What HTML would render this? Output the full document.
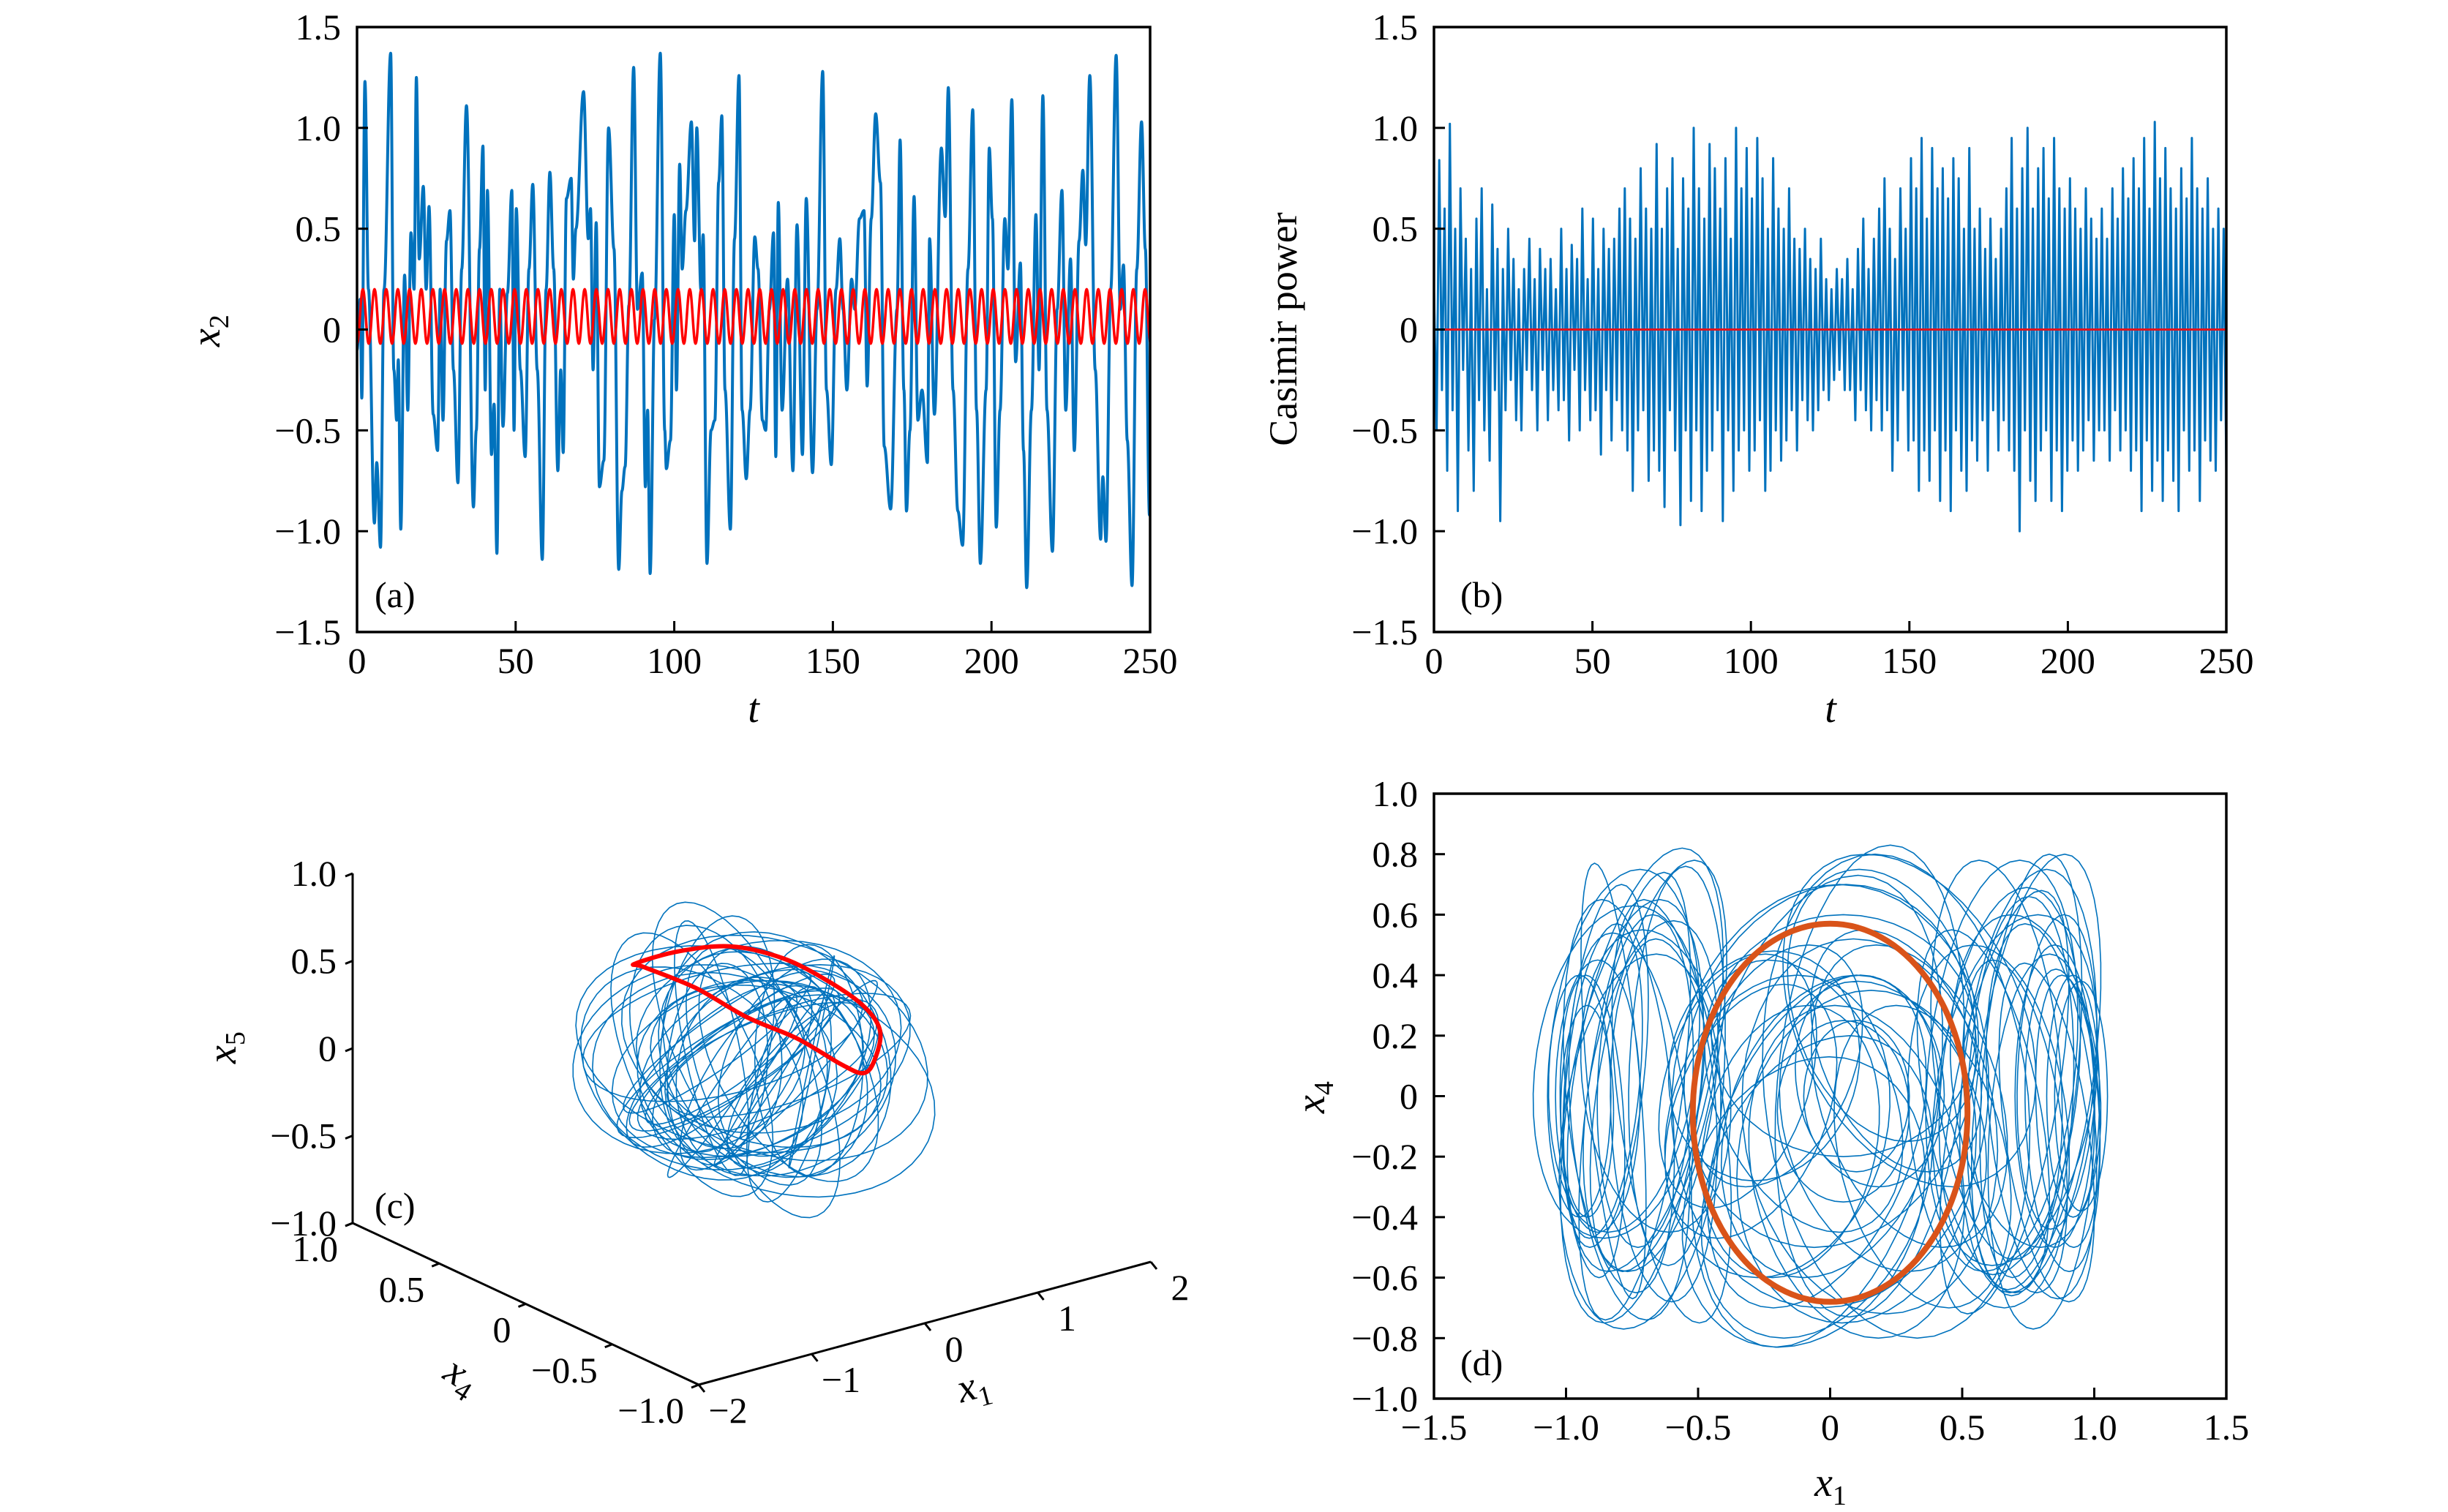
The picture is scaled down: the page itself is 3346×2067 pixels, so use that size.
<!DOCTYPE html>
<html><head><meta charset="utf-8"><style>
html,body{margin:0;padding:0;background:#fff}
svg{display:block}
text{font-family:"Liberation Serif","DejaVu Serif",serif;fill:#000}
.tk{font-size:50px}
.it{font-style:italic;font-size:56px}
</style></head><body>
<svg id="fig" width="3346" height="2067" viewBox="0 0 3346 2067" xmlns="http://www.w3.org/2000/svg">
<rect width="3346" height="2067" fill="#fff"/>
<g id="pa"></g>
<g id="pb"></g>
<g id="pc"></g>
<g id="pd"></g>
</svg>
<script>
// ---------- Panel (a) data: local extrema of x2(t) ----------
const aTimes=[0,1,1.5,2.5,3.6,5.5,6.2,7.4,8.5,10.6,11.6,12.5,13,13.8,15,16,17,18,18.7,19.6,20.9,21.8,22.7,24,25.4,26.2,27.1,28.2,29.3,30.4,31.8,33,34.5,36.7,37.6,38.6,39.7,40.4,41.1,42.4,43.2,44.1,45,46,47.4,48.8,49.5,50.2,51.5,53,54.2,55.4,56.8,58.4,59.6,60.8,62,63.3,64.2,65,66,67.5,68.2,69,71.4,72.9,73.6,74.4,75.4,76.4,77.8,79.3,81,82.5,83.5,84.5,85.7,87.2,88.4,89.9,90.9,91.6,92.4,93.8,95.6,97,97.5,98.8,100,100.7,101.7,102.5,103.7,105.4,106.4,107.1,108.4,109.1,110.3,111.6,112.8,114,115,116,117.7,119,120.4,121.4,122.7,123.9,125.4,126.4,127.8,128.8,130,131.3,132,132.8,134,135.7,137.4,138.7,140.4,141.6,143.6,145,146.8,148,149.5,151,152.2,153.2,154.4,155.9,156.9,158.4,159.8,160.8,162.1,163.5,165,166.2,168.2,170.2,171.2,172.4,173.2,174.3,175.6,176.8,178.1,179.8,180.5,182,184.2,185.4,186.4,187.9,189.4,190.9,192.6,194.1,195.3,196.5,198.3,199.3,200.3,201.5,202.7,204.2,205.2,206.4,207.6,209.1,210.1,211.1,212.6,214,215,216.2,217.5,219.2,220.7,222.2,223.4,224.9,226.1,227.6,228.8,229.7,231,232.7,234.4,235.1,236.1,237.6,239.3,240.6,241.6,242.8,244.3,245.8,247.3,248.5,249.8];
const aValues=[-0.1,0.15,-0.34,1.23,0.2,-0.96,-0.66,-1.08,0.2,1.37,-0.2,-0.45,-0.15,-0.99,0.27,-0.4,0.48,0.2,1.25,0.35,0.71,0.2,0.61,-0.42,-0.6,0.2,-0.45,0.44,0.59,-0.2,-0.76,0.3,1.11,-0.88,-0.5,0.4,0.91,-0.3,0.69,-0.62,-0.37,-1.11,0.2,-0.48,0.18,0.69,-0.5,0.6,-0.2,-0.63,0.3,0.72,-0.2,-1.14,0.2,0.78,0.3,-0.7,-0.2,-0.61,0.65,0.75,0.25,0.5,1.18,0.45,0.6,-0.2,0.53,-0.78,-0.65,1.0,0.4,-1.19,-0.8,-0.68,0.12,1.3,0.1,0.28,-0.78,-0.4,-1.21,0.05,1.37,-0.5,-0.69,-0.55,0.57,-0.3,0.82,0.3,0.59,1.03,0.44,1.0,0.2,0.47,-1.16,-0.5,-0.45,0.73,1.06,-0.3,-0.99,0.45,1.26,-0.4,-0.74,-0.4,0.46,0.3,-0.45,-0.5,0.1,0.48,-0.63,0.63,-0.4,0.25,-0.7,0.52,-0.62,0.65,-0.71,0.1,1.28,-0.3,-0.67,0.2,0.45,0.1,-0.3,0.25,0.1,0.55,0.59,-0.28,0.55,1.07,0.73,-0.58,-0.89,0.1,0.94,-0.3,-0.9,-0.5,0.66,-0.45,-0.3,-0.66,0.45,-0.42,0.9,0.56,1.2,-0.3,-0.9,-1.07,0.3,1.09,-0.4,-1.16,-0.3,0.9,0.55,-0.98,-0.4,0.55,0.3,1.14,-0.16,0.33,-0.6,-1.28,-0.4,0.57,-0.2,1.16,-0.4,-1.1,0.1,0.69,-0.4,0.35,-0.6,0.44,0.79,0.42,1.26,-0.2,-1.04,-0.73,-1.05,0.2,1.36,0.1,0.32,-0.55,-1.27,0.3,1.03,0.4,-0.92];
const aRedHigh=[0.2], aRedLow=[-0.07], aRedPeriod=[3.68];
const aYTicks=[-1.5,-1,-0.5,0,0.5,1,1.5];
const aYLabels=["\u22121.5","\u22121.0","\u22120.5","0","0.5","1.0","1.5"];
const tTicks=[0,50,100,150,200,250];
const tLabels=["0","50","100","150","200","250"];

// ---------- Panel (b) data: Casimir power samples ----------
const bValues=[0.2,-0.5,0.84,-0.3,0.6,-0.7,1.02,-0.4,0.5,-0.9,0.7,-0.2,
0.45,-0.6,0.3,-0.8,0.55,-0.35,0.7,-0.5,0.2,-0.65,0.62,-0.3,
0.4,-0.95,0.3,-0.4,0.5,-0.25,0.35,-0.45,0.2,-0.5,0.3,-0.2,
0.45,-0.3,0.25,-0.5,0.4,-0.2,0.3,-0.45,0.35,-0.3,0.2,-0.4,
0.5,-0.35,0.3,-0.55,0.42,-0.2,0.35,-0.5,0.6,-0.3,0.25,-0.45,
0.55,-0.4,0.3,-0.62,0.5,-0.3,0.4,-0.55,0.45,-0.35,0.6,-0.5,
0.7,-0.6,0.55,-0.8,0.45,-0.5,0.8,-0.4,0.6,-0.75,0.5,-0.6,
0.92,-0.7,0.5,-0.88,0.7,-0.4,0.85,-0.6,0.4,-0.97,0.75,-0.5,
0.6,-0.85,1.0,-0.5,0.7,-0.9,0.55,-0.7,0.92,-0.6,0.8,-0.4,
0.6,-0.95,0.85,-0.5,0.45,-0.8,1.0,-0.6,0.7,-0.5,0.9,-0.7,
0.65,-0.6,0.95,-0.45,0.75,-0.8,0.5,-0.7,0.85,-0.5,0.6,-0.65,
0.5,-0.55,0.7,-0.4,0.45,-0.6,0.4,-0.35,0.5,-0.45,0.35,-0.5,
0.3,-0.4,0.45,-0.3,0.25,-0.35,0.2,-0.25,0.3,-0.2,0.25,-0.3,
0.35,-0.3,0.2,-0.45,0.4,-0.3,0.55,-0.4,0.3,-0.5,0.45,-0.35,
0.6,-0.5,0.75,-0.4,0.5,-0.7,0.35,-0.55,0.7,-0.3,0.5,-0.6,
0.85,-0.55,0.7,-0.8,0.95,-0.6,0.55,-0.75,0.9,-0.5,0.7,-0.85,
0.8,-0.6,0.65,-0.9,0.85,-0.5,0.75,-0.7,0.5,-0.8,0.9,-0.55,
0.5,-0.65,0.6,-0.45,0.4,-0.7,0.55,-0.4,0.35,-0.6,0.5,-0.45,
0.7,-0.6,0.95,-0.7,0.6,-1.0,0.8,-0.5,1.0,-0.75,0.6,-0.85,
0.8,-0.6,0.9,-0.5,0.65,-0.85,0.95,-0.6,0.7,-0.9,0.6,-0.7,
0.75,-0.55,0.6,-0.7,0.5,-0.6,0.7,-0.45,0.55,-0.65,0.45,-0.5,
0.6,-0.5,0.45,-0.65,0.7,-0.4,0.55,-0.6,0.8,-0.5,0.65,-0.7,
0.85,-0.6,0.7,-0.9,0.95,-0.55,0.6,-0.8,1.03,-0.65,0.75,-0.85,
0.9,-0.6,0.7,-0.75,0.6,-0.9,0.8,-0.5,0.65,-0.7,0.95,-0.6,
0.7,-0.85,0.6,-0.55,0.75,-0.65,0.5,-0.7,0.6,-0.45,0.5,-0.7];
const bRedLevel=[0];

// ---------- Panel (c) data: 3D loops (x1,x4,x5) ----------
const cC1=[0.1,-0.2,0.3,0.0,-0.1,0.2,-0.3,0.15,-0.05,0.25,-0.25,0.05,0.1,-0.15,0.2,0.0,-0.2,0.3,-0.1,0.1,0.05,-0.05,0.15,-0.3,0.25,0.0,-0.15,0.2,0.1,-0.1,0.0,0.3,-0.2,0.05,0.15,-0.25,0.1,0.2,-0.05,0.0];
const cC4=[0.0,0.1,-0.1,0.2,-0.2,0.05,0.15,-0.15,0.1,-0.05,0.2,-0.1,0.0,0.1,-0.2,0.15,-0.05,0.05,0.2,-0.15,0.1,-0.1,0.0,0.15,-0.05,0.2,-0.2,0.1,-0.1,0.05,0.0,-0.15,0.1,0.2,-0.1,0.05,0.15,-0.2,0.0,0.1];
const cC5=[0.0,0.1,-0.1,0.05,0.15,-0.05,0.0,0.1,-0.15,0.05,0.0,0.15,-0.1,0.0,0.1,-0.05,0.05,0.0,0.1,-0.1,0.05,0.0,0.15,-0.05,0.0,0.1,0.05,-0.1,0.0,0.1,-0.05,0.05,0.0,0.1,-0.1,0.0,0.05,0.1,-0.05,0.0];
const cR1=[0.82,0.61,0.95,0.68,0.88,0.54,0.75,0.95,0.65,0.85,0.71,0.88,0.58,0.78,0.95,0.68,0.82,0.61,0.88,0.75,0.92,0.54,0.85,0.68,0.78,0.88,0.65,0.82,0.71,0.88,0.95,0.61,0.75,0.85,0.68,0.92,0.58,0.82,0.88,0.75];
const cR4=[0.28,0.35,0.21,0.38,0.25,0.32,0.42,0.18,0.35,0.28,0.21,0.38,0.32,0.25,0.35,0.42,0.21,0.28,0.35,0.25,0.32,0.38,0.21,0.28,0.42,0.25,0.35,0.32,0.21,0.38,0.28,0.35,0.25,0.32,0.42,0.21,0.35,0.28,0.25,0.38];
const cR5=[0.5,0.6,0.45,0.55,0.62,0.42,0.55,0.5,0.6,0.46,0.56,0.52,0.62,0.48,0.44,0.6,0.55,0.64,0.46,0.58,0.5,0.62,0.55,0.5,0.46,0.6,0.56,0.52,0.62,0.48,0.42,0.6,0.55,0.5,0.58,0.46,0.64,0.55,0.52,0.56];
const cPh=[0,1,2,3,4,5,0.5,1.5,2.5,3.5,4.5,5.5,0.2,1.2,2.2,3.2,4.2,5.2,0.7,1.7,2.7,3.7,4.7,5.7,0.4,1.4,2.4,3.4,4.4,5.4,0.9,1.9,2.9,3.9,4.9,5.9,0.1,1.1,2.1,3.1];
const cRedX1=[-1.026,-0.631,-0.178,0.275,0.663,0.987,1.136,1.084,0.987,0.793,0.405,-0.049,-0.502,-0.955];
const cRedX4=[0,0,0,0,0,0,0,0,0,0,0,0,0,0];
const cRedX5=[0.776,0.778,0.724,0.577,0.383,0.18,0.008,-0.151,-0.205,-0.121,0.094,0.299,0.546,0.743];
const cZTicks=[-1,-0.5,0,0.5,1];
const cZLabels=["\u22121.0","\u22120.5","0","0.5","1.0"];
const cX4Ticks=[1,0.5,0,-0.5,-1];
const cX4Labels=["1.0","0.5","0","\u22120.5","\u22121.0"];
const cX1Ticks=[-2,-1,0,1,2];
const cX1Labels=["\u22122","\u22121","0","1","2"];

// ---------- Panel (d) data: loops in (x1,x4) ----------
const dCx=[-0.85,-0.8,-0.75,-0.7,-0.9,-0.65,-0.78,-0.6,-0.88,-0.72,-0.82,-0.68,-0.95,-0.58,-0.76,-0.86,-0.7,-0.63,-0.8,-0.92,-0.74,-0.66,
0.8,0.75,0.7,0.85,0.65,0.9,0.78,0.6,0.72,0.82,0.68,0.95,0.58,0.76,0.88,0.7,0.63,0.8,0.92,0.74,0.66,0.86,
0.0,-0.1,0.1,-0.2,0.2,0.05,-0.05,0.15,-0.15,0.3,-0.3,0.0,0.1,-0.1,0.25,-0.25,0.05,0.35,-0.35,0.0,0.15,-0.05,0.2,-0.2,0.1,0.3,0.15,-0.05,0.25];
const dCy=[0.1,0.0,-0.05,0.05,-0.1,0.1,0.15,-0.05,0.0,-0.15,0.05,0.0,0.0,0.1,-0.1,0.05,0.12,-0.08,0.08,-0.05,0.0,0.05,
-0.05,0.05,-0.1,0.0,0.1,-0.05,0.08,-0.1,0.0,-0.12,0.05,0.0,-0.05,0.1,-0.08,0.02,0.12,-0.15,0.0,0.05,-0.02,0.08,
-0.1,0.0,-0.2,0.1,-0.1,0.2,-0.3,0.05,-0.15,0.0,-0.05,0.1,-0.25,-0.35,0.15,0.1,-0.05,-0.2,0.05,0.0,-0.1,-0.15,0.3,-0.1,0.0,0.25,0.05,-0.05,0.0];
const dRx=[0.15,0.2,0.25,0.18,0.12,0.22,0.28,0.2,0.16,0.3,0.1,0.24,0.12,0.18,0.22,0.14,0.26,0.2,0.32,0.1,0.18,0.28,
0.2,0.25,0.18,0.15,0.28,0.12,0.22,0.3,0.2,0.16,0.26,0.1,0.22,0.18,0.14,0.3,0.24,0.2,0.1,0.28,0.2,0.15,
0.4,0.35,0.45,0.3,0.38,0.5,0.42,0.28,0.33,0.35,0.3,0.55,0.4,0.45,0.3,0.36,0.25,0.32,0.28,0.6,0.48,0.38,0.35,0.42,0.2,0.45,0.35,0.45,0.5];
const dRy=[0.6,0.65,0.7,0.55,0.5,0.68,0.6,0.7,0.45,0.62,0.72,0.58,0.4,0.66,0.64,0.52,0.7,0.6,0.55,0.35,0.74,0.5,
0.62,0.7,0.55,0.5,0.68,0.45,0.72,0.6,0.66,0.56,0.64,0.38,0.6,0.7,0.5,0.58,0.66,0.62,0.4,0.55,0.7,0.52,
0.5,0.45,0.55,0.4,0.48,0.4,0.5,0.35,0.45,0.5,0.42,0.6,0.55,0.48,0.4,0.38,0.3,0.5,0.42,0.7,0.62,0.55,0.45,0.5,0.25,0.55,0.78,0.78,0.8];
const dSk=[0.1,-0.1,0.15,0.05,-0.05,0.2,0.1,-0.15,0.0,0.1,-0.1,0.15,0.0,0.05,-0.1,0.1,0.2,-0.05,0.1,0.0,0.15,-0.1,
-0.1,0.1,-0.15,0.0,0.1,-0.05,0.15,-0.1,0.05,-0.15,0.1,0.0,-0.2,0.1,-0.05,0.15,-0.1,0.05,0.0,-0.1,0.2,0.05,
0.2,-0.3,0.1,0.3,-0.2,0.0,0.25,-0.1,0.15,-0.25,0.3,0.1,-0.15,0.2,-0.3,0.1,0.0,-0.2,0.25,0.05,-0.1,0.3,-0.2,0.15,0.0,-0.3,0.1,0.2,-0.1];
const dCycle=[0.0,-0.055,0.52,0.625]; // center x, center y, half-width, half-height
const dXTicks=[-1.5,-1,-0.5,0,0.5,1,1.5];
const dXLabels=["\u22121.5","\u22121.0","\u22120.5","0","0.5","1.0","1.5"];
const dYTicks=[-1,-0.8,-0.6,-0.4,-0.2,0,0.2,0.4,0.6,0.8,1];
const dYLabels=["\u22121.0","\u22120.8","\u22120.6","\u22120.4","\u22120.2","0","0.2","0.4","0.6","0.8","1.0"];

const NS="http://www.w3.org/2000/svg";
function mk(parent,tag,attrs){const e=document.createElementNS(NS,tag);for(const k in attrs)e.setAttribute(k,attrs[k]);parent.appendChild(e);return e;}
function txt(parent,x,y,s,cls,anchor){const e=mk(parent,'text',{x:x,y:y,'class':cls,'text-anchor':anchor||'middle'});e.textContent=s;return e;}
const BLUE="#0072BD";

function frame(g,L,T,R,B){
  const r=mk(g,'rect',{x:L,y:T,width:R-L,height:B-T,fill:'none',stroke:'#000','stroke-width':3.5});
  
  
}
function xAxis(g,ticks,labels,X,B){
  ticks.forEach((v,i)=>{
    const l=mk(g,'line',{x1:X(v),x2:X(v),y1:B,y2:B-15,stroke:'#000','stroke-width':3});
    
    
    const t=txt(g,X(v),B+56,labels[i],'tk');
    
    
  });
}
function yAxis(g,ticks,labels,Y,L){
  ticks.forEach((v,i)=>{
    const l=mk(g,'line',{x1:L,x2:L+15,y1:Y(v),y2:Y(v),stroke:'#000','stroke-width':3});
    
    
    const t=txt(g,L-22,Y(v)+17,labels[i],'tk','end');
    
    
  });
}
function subLabel(g,x,y,main,sub,rot,name){
  const t=mk(g,'text',{x:x,y:y,'class':'it','text-anchor':'middle'});
  if(rot)t.setAttribute('transform','rotate('+rot+' '+x+' '+y+')');
  
  
  const a=mk(t,'tspan',{});a.textContent=main;
  if(sub){const b=mk(t,'tspan',{dy:12,'font-size':38,'font-style':'normal'});b.textContent=sub;}
  return t;
}
function smoothPath(xs,ys){
  let d='M'+xs[0].toFixed(1)+','+ys[0].toFixed(1);
  for(let i=1;i<xs.length;i++){const dx=(xs[i]-xs[i-1])/2.6;
    d+='C'+(xs[i-1]+dx).toFixed(1)+','+ys[i-1].toFixed(1)+' '+(xs[i]-dx).toFixed(1)+','+ys[i].toFixed(1)+' '+xs[i].toFixed(1)+','+ys[i].toFixed(1);}
  return d;
}
function closedSpline(pts){ // Catmull-Rom closed
  const n=pts.length;let d='M'+pts[0][0].toFixed(1)+','+pts[0][1].toFixed(1);
  for(let i=0;i<n;i++){const p0=pts[(i-1+n)%n],p1=pts[i],p2=pts[(i+1)%n],p3=pts[(i+2)%n];
    const c1=[p1[0]+(p2[0]-p0[0])/6,p1[1]+(p2[1]-p0[1])/6],c2=[p2[0]-(p3[0]-p1[0])/6,p2[1]-(p3[1]-p1[1])/6];
    d+='C'+c1[0].toFixed(1)+','+c1[1].toFixed(1)+' '+c2[0].toFixed(1)+','+c2[1].toFixed(1)+' '+p2[0].toFixed(1)+','+p2[1].toFixed(1);}
  return d+'Z';
}

// ===== Panel (a) =====
(function(){
  const g=document.getElementById('pa');
  const L=488,R=1572,T=37,B=864;
  const X=t=>L+t/250*(R-L), Y=v=>(T+B)/2-v*(B-T)/3;
  const cp=mk(g,'clipPath',{id:'clipA'});mk(cp,'rect',{x:L,y:T,width:R-L,height:B-T});
  const blue=mk(g,'path',{d:smoothPath(aTimes.map(X),aValues.map(Y)),fill:'none',stroke:BLUE,'stroke-width':4,'clip-path':'url(#clipA)','stroke-linejoin':'round'});
  
  
  const xs=[],ys=[];
  for(let k=0;k*aRedPeriod[0]/2<=252;k++){xs.push(X(k*aRedPeriod[0]/2));ys.push(Y(k%2?aRedHigh[0]:aRedLow[0]));}
  const red=mk(g,'path',{d:smoothPath(xs,ys),fill:'none',stroke:'#FF0000','stroke-width':3.5,'clip-path':'url(#clipA)'});
  
  
  frame(g,L,T,R,B);
  xAxis(g,tTicks,tLabels,X,B);
  yAxis(g,aYTicks,aYLabels,Y,L);
  const xl=txt(g,1030,987,'t','it');
  
  
  subLabel(g,300,452,'x','2',-90,'y-axis-title');
  const pl=txt(g,512,830,'(a)','tk','start');
  
  
})();

// ===== Panel (b) =====
(function(){
  const g=document.getElementById('pb');
  const L=1960,R=3043,T=37,B=864;
  const X=t=>L+t/250*(R-L), Y=v=>(T+B)/2-v*(B-T)/3;
  const n=bValues.length;
  let d='';
  bValues.forEach((v,i)=>{d+=(i?'L':'M')+X(i*250/(n-1)).toFixed(1)+','+Y(v).toFixed(1);});
  const blue=mk(g,'path',{d:d,fill:'none',stroke:BLUE,'stroke-width':3,'stroke-linejoin':'round'});
  
  
  const red=mk(g,'line',{x1:X(0),x2:X(250),y1:Y(bRedLevel[0]),y2:Y(bRedLevel[0]),stroke:'#E0141E','stroke-width':3});
  
  
  frame(g,L,T,R,B);
  xAxis(g,tTicks,tLabels,X,B);
  yAxis(g,aYTicks,aYLabels,Y,L);
  const xl=txt(g,2502,987,'t','it');
  
  
  const yl=mk(g,'text',{x:1772,y:450,'text-anchor':'middle','font-size':54,transform:'rotate(-90 1772 450)'});
  yl.textContent='Casimir power';
  
  
  const pl=txt(g,1996,830,'(b)','tk','start');
  
  
})();

// ===== Panel (c) =====
(function(){
  const g=document.getElementById('pc');
  const P=(x1,x4,x5)=>[955+(x1+2)*154.5-(x4+1)*236.5, 1893-(x1+2)*42-(x4+1)*110.5-(x5+1)*239];
  const ax=[[P(-2,1,-1),P(-2,1,1)],[P(-2,1,-1),P(-2,-1,-1)],[P(-2,-1,-1),P(2,-1,-1)]];
  const axNames=['z-axis-line','x4-axis-line','x1-axis-line'];
  ax.forEach((s,i)=>{const l=mk(g,'line',{x1:s[0][0],y1:s[0][1],x2:s[1][0],y2:s[1][1],stroke:'#000','stroke-width':3});
    
    });
  cZTicks.forEach((v,i)=>{const p=P(-2,1,v);
    const l=mk(g,'line',{x1:p[0]-10,y1:p[1]+4,x2:p[0],y2:p[1],stroke:'#000','stroke-width':3});
    
    
    const t=txt(g,p[0]-22,p[1]+17,cZLabels[i],'tk','end');
    
    });
  cX4Ticks.forEach((v,i)=>{const p=P(-2,v,-1);
    const l=mk(g,'line',{x1:p[0],y1:p[1],x2:p[0]-10,y2:p[1]+4,stroke:'#000','stroke-width':3});
    
    
    const t=txt(g,p[0]-20,p[1]+52,cX4Labels[i],'tk','end');
    
    });
  cX1Ticks.forEach((v,i)=>{const p=P(v,-1,-1);
    const l=mk(g,'line',{x1:p[0],y1:p[1],x2:p[0]+8,y2:p[1]+10,stroke:'#000','stroke-width':3});
    
    
    const t=txt(g,p[0]+40,p[1]+52,cX1Labels[i],'tk');
    
    });
  let d='';
  for(let k=0;k<cC1.length;k++){
    for(let j=0;j<=48;j++){const th=j/48*2*Math.PI;
      const p=P(cC1[k]+cR1[k]*Math.cos(th),cC4[k]+cR4[k]*Math.sin(th+cPh[k]),cC5[k]+cR5[k]*Math.sin(th));
      d+=(j?'L':'M')+p[0].toFixed(1)+','+p[1].toFixed(1);}
  }
  const blue=mk(g,'path',{d:d,fill:'none',stroke:BLUE,'stroke-width':1.6});
  
  
  const rp=cRedX1.map((v,i)=>P(v,cRedX4[i],cRedX5[i]));
  const red=mk(g,'path',{d:closedSpline(rp),fill:'none',stroke:'#FF0000','stroke-width':6,'stroke-linejoin':'round'});
  
  
  subLabel(g,322,1432,'x','5',-90,'z-axis-title');
  subLabel(g,622,1895,'x','4',32,'x4-axis-title');
  subLabel(g,1335,1912,'x','1',-15,'x1-axis-title');
  const pl=txt(g,512,1665,'(c)','tk','start');
  
  
})();

// ===== Panel (d) =====
(function(){
  const g=document.getElementById('pd');
  const L=1960,R=3043,T=1085,B=1912;
  const X=x=>L+(x+1.5)/3*(R-L), Y=y=>B-(y+1)/2*(B-T);
  let d='';
  for(let k=0;k<dCx.length;k++){
    for(let j=0;j<=48;j++){const th=j/48*2*Math.PI;
      const yy=dCy[k]+dRy[k]*Math.sin(th);
      const xx=dCx[k]+dRx[k]*Math.cos(th)+dSk[k]*(yy-dCy[k]);
      d+=(j?'L':'M')+X(xx).toFixed(1)+','+Y(yy).toFixed(1);}
  }
  const blue=mk(g,'path',{d:d,fill:'none',stroke:BLUE,'stroke-width':1.6});
  
  
  const e=mk(g,'ellipse',{cx:X(dCycle[0]),cy:Y(dCycle[1]),rx:X(dCycle[2])-X(0),ry:Y(0)-Y(dCycle[3]),fill:'none',stroke:'#D95319','stroke-width':8});
  
  
  frame(g,L,T,R,B);
  xAxis(g,dXTicks,dXLabels,X,B);
  yAxis(g,dYTicks,dYLabels,Y,L);
  subLabel(g,2502,2045,'x','1',0,'x-axis-title');
  subLabel(g,1810,1500,'x','4',-90,'y-axis-title');
  const pl=txt(g,1996,1880,'(d)','tk','start');
  
  
})();
</script>
</body></html>
